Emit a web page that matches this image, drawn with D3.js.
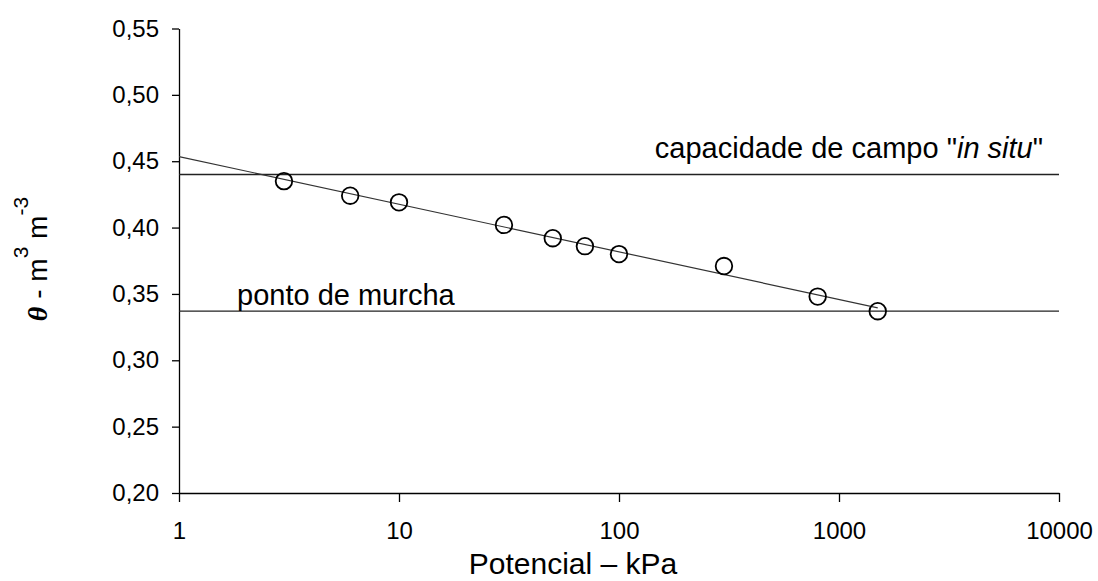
<!DOCTYPE html>
<html>
<head>
<meta charset="utf-8">
<script src="https://cdn.jsdelivr.net/npm/d3@7"></script>
<style>
  html, body { margin: 0; padding: 0; background: #fff; }
  svg { display: block; }
  text { font-family: Arial, "Liberation Sans", sans-serif; fill: #000; }
</style>
</head>
<body>
<svg id="chart" width="1098" height="581"></svg>
<script>
// Water retention: measured points (potential in kPa, volumetric water content)
const potential = [3, 6, 10, 30, 50, 70, 100, 300, 800, 1500];
const theta = [0.435, 0.424, 0.419, 0.402, 0.392, 0.386, 0.380, 0.371, 0.348, 0.337];

// Fitted line (log-linear), drawn between its two end points
const fitPotential = [1, 1500];
const fitTheta = [0.4535, 0.3395];

// Reference levels
const fieldCapacity = 0.44;
const wiltingPoint = 0.337;

// Axis ticks
const xTicks = [1, 10, 100, 1000, 10000];
const yTicks = [0.20, 0.25, 0.30, 0.35, 0.40, 0.45, 0.50, 0.55];

const svg = d3.select("#chart");

const x = d3.scaleLog().domain([1, 10000]).range([179, 1059]);
const y = d3.scaleLinear().domain([0.20, 0.55]).range([493, 28.5]);

const comma = d => d3.format(".2f")(d).replace(".", ",");

// Y axis
const gy = svg.append("g")
  .attr("transform", `translate(${x(1)},0)`)
  .call(d3.axisLeft(y).tickValues(yTicks).tickFormat(comma).tickSize(7).tickPadding(13).tickSizeOuter(0));
gy.select(".domain").attr("stroke", "#000").attr("stroke-width", 1.3);
gy.selectAll(".tick line").attr("stroke", "#000").attr("stroke-width", 1.3);
gy.selectAll(".tick text").attr("font-size", 24).attr("font-family", "Arial, 'Liberation Sans', sans-serif");

// X axis
const gx = svg.append("g")
  .attr("transform", `translate(0,${y(0.20)})`)
  .call(d3.axisBottom(x).tickValues(xTicks).tickFormat(d3.format("d")).tickSize(9).tickPadding(20).tickSizeOuter(0));
gx.select(".domain").attr("stroke", "#000").attr("stroke-width", 1.3);
gx.selectAll(".tick line").attr("stroke", "#000").attr("stroke-width", 1.3);
gx.selectAll(".tick text").attr("font-size", 24).attr("font-family", "Arial, 'Liberation Sans', sans-serif");

// Reference lines
[fieldCapacity, wiltingPoint].forEach(v => {
  svg.append("line")
    .attr("x1", x(1)).attr("x2", x(10000))
    .attr("y1", y(v)).attr("y2", y(v))
    .attr("stroke", "#222").attr("stroke-width", 1.3);
});

// Fitted line
svg.append("path")
  .datum(fitPotential.map((p, i) => [p, fitTheta[i]]))
  .attr("fill", "none")
  .attr("stroke", "#333")
  .attr("stroke-width", 1.2)
  .attr("d", d3.line().x(d => x(d[0])).y(d => y(d[1])));

// Measured points
svg.append("g").selectAll("circle")
  .data(potential.map((p, i) => [p, theta[i]]))
  .join("circle")
  .attr("cx", d => x(d[0]))
  .attr("cy", d => y(d[1]))
  .attr("r", 8.3)
  .attr("fill", "none")
  .attr("stroke", "#000")
  .attr("stroke-width", 1.8);

// Annotations
const cc = svg.append("text")
  .attr("x", 1043).attr("y", 158)
  .attr("text-anchor", "end")
  .attr("font-size", 29);
cc.append("tspan").text("capacidade de campo \"");
cc.append("tspan").attr("font-style", "italic").text("in situ");
cc.append("tspan").text("\"");

svg.append("text")
  .attr("x", 237).attr("y", 305)
  .attr("font-size", 29)
  .text("ponto de murcha");

// Axis titles
svg.append("text")
  .attr("x", 573).attr("y", 574)
  .attr("text-anchor", "middle")
  .attr("font-size", 30)
  .text("Potencial – kPa");

const yl = svg.append("text")
  .attr("transform", "translate(47,259) rotate(-90)")
  .attr("text-anchor", "middle")
  .attr("font-size", 28);
yl.append("tspan")
  .attr("font-family", "'Liberation Serif', 'DejaVu Serif', serif")
  .attr("font-weight", "bold").attr("font-style", "italic")
  .text("θ");
yl.append("tspan").text(" - m");
yl.append("tspan").attr("font-size", 21).attr("dy", -19).text("3");
yl.append("tspan").attr("dy", 19).text(" m");
yl.append("tspan").attr("font-size", 21).attr("dy", -19).text("-3");
</script>
</body>
</html>
